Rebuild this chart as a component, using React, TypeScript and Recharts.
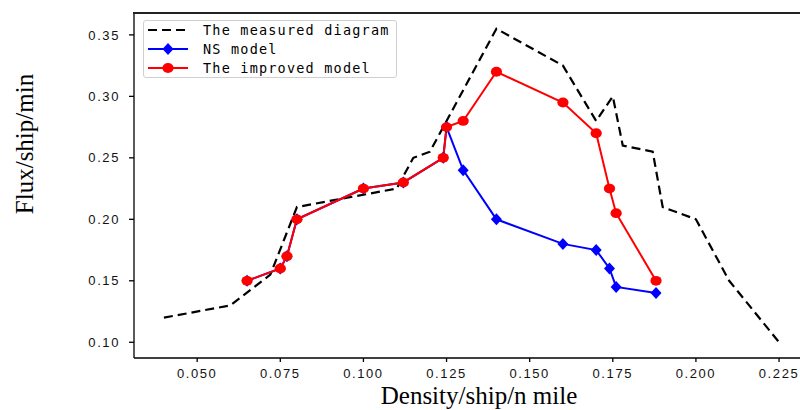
import { Label, Legend, Line, LineChart, XAxis, YAxis } from 'recharts'

const measuredDensity = [0.04, 0.06, 0.072, 0.08, 0.11, 0.115, 0.12, 0.14, 0.16, 0.17, 0.175, 0.178, 0.187, 0.19, 0.2, 0.21, 0.225]
const measuredFlux = [0.12, 0.13, 0.155, 0.21, 0.225, 0.25, 0.255, 0.355, 0.325, 0.28, 0.3, 0.26, 0.255, 0.21, 0.2, 0.15, 0.1]

const nsDensity = [0.065, 0.075, 0.077, 0.08, 0.1, 0.112, 0.124, 0.125, 0.13, 0.14, 0.16, 0.17, 0.174, 0.176, 0.188]
const nsFlux = [0.15, 0.16, 0.17, 0.2, 0.225, 0.23, 0.25, 0.275, 0.24, 0.2, 0.18, 0.175, 0.16, 0.145, 0.14]

const improvedDensity = [0.065, 0.075, 0.077, 0.08, 0.1, 0.112, 0.124, 0.125, 0.13, 0.14, 0.16, 0.17, 0.174, 0.176, 0.188]
const improvedFlux = [0.15, 0.16, 0.17, 0.2, 0.225, 0.23, 0.25, 0.275, 0.28, 0.32, 0.295, 0.27, 0.225, 0.205, 0.15]

const densityTicks = [0.05, 0.075, 0.1, 0.125, 0.15, 0.175, 0.2, 0.225]
const fluxTicks = [0.1, 0.15, 0.2, 0.25, 0.3, 0.35]

const seriesNames = ['The measured diagram', 'NS model', 'The improved model']

const toPoints = (xs: number[], ys: number[]) => xs.map((x, i) => ({ x, y: ys[i] }))

const measured = toPoints(measuredDensity, measuredFlux)
const ns = toPoints(nsDensity, nsFlux)
const improved = toPoints(improvedDensity, improvedFlux)

const xDomain = [0.031, 0.2313]
const yDomain = [0.0872, 0.3678]

const tickStyle = { fontFamily: 'Liberation Sans', fontSize: 13, letterSpacing: 1.6, fill: '#111' }
const titleStyle = { fontFamily: 'Liberation Serif', fontSize: 25, fill: '#000' }

function Diamond(props: any) {
  const { cx, cy, index } = props
  if (cx == null || cy == null) return null
  return (
    <polygon
      key={`d-${index}`}
      points={`${cx},${cy - 6} ${cx + 5.5},${cy} ${cx},${cy + 6} ${cx - 5.5},${cy}`}
      fill="#0000ff"
    />
  )
}

function RedDot(props: any) {
  const { cx, cy, index } = props
  if (cx == null || cy == null) return null
  return <ellipse key={`r-${index}`} cx={cx} cy={cy} rx={5.6} ry={4.9} fill="#ff0000" />
}

function LegendBox() {
  const rowStyle = { display: 'flex', alignItems: 'center', height: 19 }
  const textStyle = { fontFamily: 'DejaVu Sans Mono', fontSize: 13.5, letterSpacing: 1.2, color: '#000', marginLeft: 14 }
  return (
    <div
      style={{
        border: '1px solid #cfcfcf',
        borderRadius: 3,
        background: '#fff',
        boxSizing: 'border-box',
        width: 254,
        height: 58,
        padding: '0 0 0 3px',
        display: 'flex',
        flexDirection: 'column',
        justifyContent: 'center',
      }}
    >
      <div style={rowStyle}>
        <svg width={42} height={12}>
          <line x1={1} y1={6} x2={41} y2={6} stroke="#000" strokeWidth={2.2} strokeDasharray="9 5" />
        </svg>
        <span style={textStyle}>{seriesNames[0]}</span>
      </div>
      <div style={rowStyle}>
        <svg width={42} height={14}>
          <line x1={1} y1={7} x2={41} y2={7} stroke="#0000ff" strokeWidth={2} />
          <polygon points="21,1 26.5,7 21,13 15.5,7" fill="#0000ff" />
        </svg>
        <span style={textStyle}>{seriesNames[1]}</span>
      </div>
      <div style={rowStyle}>
        <svg width={42} height={14}>
          <line x1={1} y1={7} x2={41} y2={7} stroke="#ff0000" strokeWidth={2} />
          <ellipse cx={21} cy={7} rx={5.6} ry={4.9} fill="#ff0000" />
        </svg>
        <span style={textStyle}>{seriesNames[2]}</span>
      </div>
    </div>
  )
}

export default function App() {
  return (
    <div style={{ position: 'absolute', left: 0, top: 0, width: 800, height: 410, background: '#fff' }}>
      <LineChart width={800} height={410} margin={{ top: 13, right: 0, bottom: 0, left: 0 }}>
        <XAxis
          type="number"
          dataKey="x"
          domain={xDomain}
          allowDataOverflow
          ticks={densityTicks}
          tickFormatter={(v: number) => v.toFixed(3)}
          height={52}
          tickSize={4}
          tickMargin={7}
          tick={tickStyle}
          stroke="#000"
          strokeWidth={1.3}
        >
          <Label
            content={() => (
              <text x={479} y={404} textAnchor="middle" style={titleStyle}>
                Density/ship/n mile
              </text>
            )}
          />
        </XAxis>
        <YAxis
          type="number"
          dataKey="y"
          domain={yDomain}
          allowDataOverflow
          ticks={fluxTicks}
          tickFormatter={(v: number) => v.toFixed(2)}
          width={134}
          tickSize={5}
          tickMargin={9}
          tick={tickStyle}
          stroke="#000"
          strokeWidth={1.3}
        >
          <Label
            content={() => (
              <text x={33} y={144} transform="rotate(-90, 33, 144)" textAnchor="middle" style={titleStyle}>
                Flux/ship/min
              </text>
            )}
          />
        </YAxis>
        <Legend
          layout="horizontal"
          align="center"
          verticalAlign="middle"
          wrapperStyle={{ left: 143, top: 20, width: 254, height: 58 }}
          content={() => <LegendBox />}
        />
        <Line
          data={measured}
          dataKey="y"
          name={seriesNames[0]}
          stroke="#000"
          strokeWidth={2.2}
          strokeDasharray="9 5"
          dot={false}
          activeDot={false}
          isAnimationActive={false}
        />
        <Line
          data={ns}
          dataKey="y"
          name={seriesNames[1]}
          stroke="#0000ff"
          strokeWidth={2}
          dot={Diamond}
          activeDot={false}
          isAnimationActive={false}
        />
        <Line
          data={improved}
          dataKey="y"
          name={seriesNames[2]}
          stroke="#ff0000"
          strokeWidth={2}
          dot={RedDot}
          activeDot={false}
          isAnimationActive={false}
        />
      </LineChart>
      {/* top spine of the axes frame */}
      <div
        style={{
          position: 'absolute',
          left: 133,
          top: 12,
          width: 667,
          height: 1.5,
          background: '#222',
          pointerEvents: 'none',
        }}
      />
    </div>
  )
}
